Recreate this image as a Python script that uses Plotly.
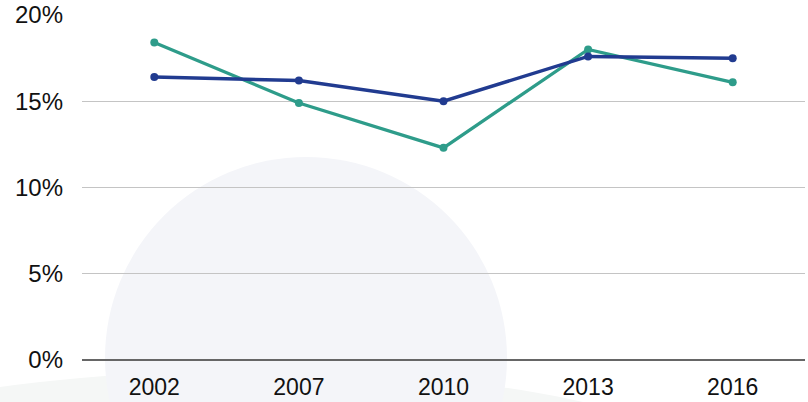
import plotly.graph_objects as go

years = ["2002", "2007", "2010", "2013", "2016"]
teal_vals = [18.4, 14.9, 12.3, 18.0, 16.1]
blue_vals = [16.4, 16.2, 15.0, 17.6, 17.5]
y_ticks = [0, 5, 10, 15, 20]
y_tick_text = ["0%", "5%", "10%", "15%", "20%"]

W, H = 808, 402
ML, MR, MT, MB = 82, 3, 15, 42
PW, PH = W - ML - MR, H - MT - MB

def px_x(p):
    return (p - ML) / PW

def px_y(p):
    return (H - MB - p) / PH

fig = go.Figure()
fig.add_trace(go.Scatter(x=years, y=teal_vals, mode="lines+markers",
                         line=dict(color="#2e9c8a", width=3.3),
                         marker=dict(size=8, color="#2e9c8a"),
                         showlegend=False, hoverinfo="skip", cliponaxis=False))
fig.add_trace(go.Scatter(x=years, y=blue_vals, mode="lines+markers",
                         line=dict(color="#213b90", width=3.5),
                         marker=dict(size=8, color="#213b90"),
                         showlegend=False, hoverinfo="skip", cliponaxis=False))

shapes = [
    dict(type="circle", xref="paper", yref="paper", layer="below",
         x0=px_x(-200), x1=px_x(700), y0=px_y(560), y1=px_y(371),
         fillcolor="#f5f7f6", line=dict(width=0)),
    dict(type="circle", xref="paper", yref="paper", layer="below",
         x0=px_x(105), x1=px_x(507), y0=px_y(559), y1=px_y(157),
         fillcolor="#f4f5f9", line=dict(width=0)),
]

fig.update_layout(
    width=W, height=H,
    margin=dict(l=ML, r=MR, t=MT, b=MB, autoexpand=False),
    paper_bgcolor="rgba(0,0,0,0)", plot_bgcolor="rgba(0,0,0,0)",
    font=dict(family="Liberation Sans, Arial, sans-serif", size=24, color="#111111"),
    shapes=shapes,
    xaxis=dict(type="category", range=[-0.5, 4.5], showgrid=False,
               showline=False, zeroline=False, ticks="", automargin=False,
               ticklabelstandoff=11, tickfont=dict(size=23)),
    yaxis=dict(range=[0, 20], tickvals=y_ticks, ticktext=y_tick_text,
               showgrid=True, gridcolor="#c4c4c4", gridwidth=1,
               zeroline=True, zerolinecolor="#666666", zerolinewidth=1.5,
               showline=False, ticks="", ticklabelstandoff=18, automargin=False,
               tickfont=dict(size=24)),
)

fig.write_html("out.html", config={"displayModeBar": False, "staticPlot": True},
               post_script="document.body.style.margin='0';document.body.style.overflow='hidden';")
